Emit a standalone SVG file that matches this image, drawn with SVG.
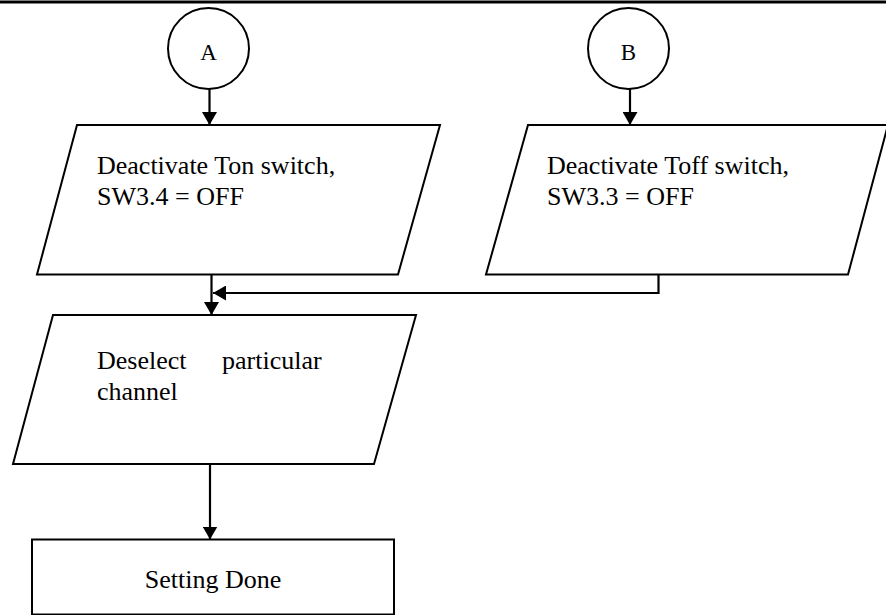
<svg xmlns="http://www.w3.org/2000/svg" width="886" height="615" viewBox="0 0 886 615">
<style>
.shape{fill:#fff;stroke:#000;stroke-width:2}
.t{font-family:"Liberation Serif","Times New Roman",serif;font-size:26px;fill:#000}
.c{font-family:"Liberation Serif","Times New Roman",serif;font-size:23px;fill:#000;text-anchor:middle}
.edge{fill:none;stroke:#000;stroke-width:2.2}
</style>
<defs>
<marker id="arr" markerUnits="userSpaceOnUse" markerWidth="14" markerHeight="15" refX="13" refY="7.5" orient="auto">
<path d="M0,0 L13,7.5 L0,15 z" fill="#000"/>
</marker>
</defs>
<rect width="886" height="615" fill="#fff"/>
<line x1="0" y1="2" x2="886" y2="2" stroke="#000" stroke-width="3"/>
<g id="connA">
<circle class="shape" cx="208.5" cy="48.5" r="40.5"/>
<text class="c" x="208.5" y="60">A</text>
</g>
<g id="connB">
<circle class="shape" cx="628.5" cy="48.5" r="40.5"/>
<text class="c" x="628.5" y="60">B</text>
</g>
<g id="deactTon">
<polygon class="shape" points="77,125 440,125 398,274.5 37,274.5"/>
<text class="t" x="97" y="174">Deactivate Ton switch,</text>
<text class="t" x="97" y="204.5">SW3.4 = OFF</text>
</g>
<g id="deactToff">
<polygon class="shape" points="528,125 888,125 848,274.5 486,274.5"/>
<text class="t" x="547" y="174">Deactivate Toff switch,</text>
<text class="t" x="547" y="204.5">SW3.3 = OFF</text>
</g>
<g id="deselect">
<polygon class="shape" points="53,315 416,315 374,464 13,464"/>
<text class="t" y="369"><tspan x="97">Deselect</tspan><tspan x="222">particular</tspan></text>
<text class="t" x="97" y="400">channel</text>
</g>
<g id="done">
<rect class="shape" x="32" y="539.5" width="362" height="75"/>
<text class="t" x="213" y="588" text-anchor="middle">Setting Done</text>
</g>
<g id="connectors">
<line class="edge" x1="209.5" y1="89" x2="209.5" y2="125" marker-end="url(#arr)"/>
<line class="edge" x1="630" y1="89" x2="630" y2="125" marker-end="url(#arr)"/>
<line class="edge" x1="211.5" y1="274.5" x2="211.5" y2="315" marker-end="url(#arr)"/>
<polyline class="edge" points="658.5,274.5 658.5,293 213,293" marker-end="url(#arr)"/>
<line class="edge" x1="210" y1="464" x2="210" y2="539.5" marker-end="url(#arr)"/>
</g>
</svg>
